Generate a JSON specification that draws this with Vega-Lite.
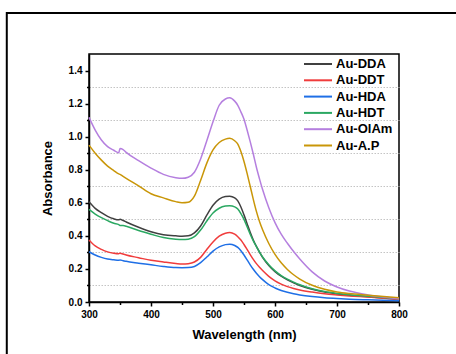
{
  "$schema": "https://vega.github.io/schema/vega-lite/v6.json",
  "width": 310,
  "height": 248,
  "autosize": {"type": "none"},
  "padding": {"left": 89, "top": 54, "right": 57, "bottom": 52},
  "background": "white",
  "config": {
    "view": {"stroke": "black", "strokeWidth": 1.5},
    "font": "Liberation Sans"
  },
  "datasets": {
    "spectra": [
      {"s":"Au-DDA","w":300,"a":0.606},{"s":"Au-DDA","w":310,"a":0.566},{"s":"Au-DDA","w":320,"a":0.54},{"s":"Au-DDA","w":330,"a":0.518},{"s":"Au-DDA","w":340,"a":0.503},{"s":"Au-DDA","w":348,"a":0.497},{"s":"Au-DDA","w":350,"a":0.5},{"s":"Au-DDA","w":355,"a":0.493},{"s":"Au-DDA","w":360,"a":0.484},{"s":"Au-DDA","w":380,"a":0.452},{"s":"Au-DDA","w":400,"a":0.425},{"s":"Au-DDA","w":420,"a":0.407},{"s":"Au-DDA","w":440,"a":0.4},{"s":"Au-DDA","w":450,"a":0.398},{"s":"Au-DDA","w":460,"a":0.4},{"s":"Au-DDA","w":470,"a":0.418},{"s":"Au-DDA","w":480,"a":0.46},{"s":"Au-DDA","w":490,"a":0.525},{"s":"Au-DDA","w":500,"a":0.585},{"s":"Au-DDA","w":510,"a":0.622},{"s":"Au-DDA","w":520,"a":0.638},{"s":"Au-DDA","w":527,"a":0.64},{"s":"Au-DDA","w":535,"a":0.63},{"s":"Au-DDA","w":540,"a":0.612},{"s":"Au-DDA","w":545,"a":0.575},{"s":"Au-DDA","w":550,"a":0.527},{"s":"Au-DDA","w":555,"a":0.474},{"s":"Au-DDA","w":560,"a":0.422},{"s":"Au-DDA","w":565,"a":0.375},{"s":"Au-DDA","w":570,"a":0.336},{"s":"Au-DDA","w":575,"a":0.302},{"s":"Au-DDA","w":580,"a":0.27},{"s":"Au-DDA","w":590,"a":0.221},{"s":"Au-DDA","w":600,"a":0.184},{"s":"Au-DDA","w":610,"a":0.156},{"s":"Au-DDA","w":620,"a":0.134},{"s":"Au-DDA","w":630,"a":0.116},{"s":"Au-DDA","w":640,"a":0.1},{"s":"Au-DDA","w":660,"a":0.077},{"s":"Au-DDA","w":680,"a":0.06},{"s":"Au-DDA","w":700,"a":0.049},{"s":"Au-DDA","w":720,"a":0.041},{"s":"Au-DDA","w":750,"a":0.032},{"s":"Au-DDA","w":775,"a":0.024},{"s":"Au-DDA","w":800,"a":0.017},

      {"s":"Au-DDT","w":300,"a":0.375},{"s":"Au-DDT","w":310,"a":0.339},{"s":"Au-DDT","w":320,"a":0.318},{"s":"Au-DDT","w":330,"a":0.303},{"s":"Au-DDT","w":340,"a":0.295},{"s":"Au-DDT","w":348,"a":0.292},{"s":"Au-DDT","w":350,"a":0.295},{"s":"Au-DDT","w":355,"a":0.29},{"s":"Au-DDT","w":360,"a":0.284},{"s":"Au-DDT","w":380,"a":0.268},{"s":"Au-DDT","w":400,"a":0.252},{"s":"Au-DDT","w":420,"a":0.242},{"s":"Au-DDT","w":440,"a":0.233},{"s":"Au-DDT","w":450,"a":0.23},{"s":"Au-DDT","w":460,"a":0.232},{"s":"Au-DDT","w":470,"a":0.242},{"s":"Au-DDT","w":480,"a":0.27},{"s":"Au-DDT","w":490,"a":0.318},{"s":"Au-DDT","w":500,"a":0.363},{"s":"Au-DDT","w":510,"a":0.398},{"s":"Au-DDT","w":520,"a":0.416},{"s":"Au-DDT","w":527,"a":0.42},{"s":"Au-DDT","w":535,"a":0.41},{"s":"Au-DDT","w":540,"a":0.395},{"s":"Au-DDT","w":545,"a":0.375},{"s":"Au-DDT","w":550,"a":0.348},{"s":"Au-DDT","w":555,"a":0.318},{"s":"Au-DDT","w":560,"a":0.287},{"s":"Au-DDT","w":565,"a":0.258},{"s":"Au-DDT","w":570,"a":0.232},{"s":"Au-DDT","w":575,"a":0.21},{"s":"Au-DDT","w":580,"a":0.19},{"s":"Au-DDT","w":590,"a":0.155},{"s":"Au-DDT","w":600,"a":0.128},{"s":"Au-DDT","w":610,"a":0.108},{"s":"Au-DDT","w":620,"a":0.093},{"s":"Au-DDT","w":630,"a":0.082},{"s":"Au-DDT","w":640,"a":0.073},{"s":"Au-DDT","w":660,"a":0.06},{"s":"Au-DDT","w":680,"a":0.05},{"s":"Au-DDT","w":700,"a":0.043},{"s":"Au-DDT","w":720,"a":0.037},{"s":"Au-DDT","w":750,"a":0.03},{"s":"Au-DDT","w":775,"a":0.023},{"s":"Au-DDT","w":800,"a":0.015},

      {"s":"Au-HDA","w":300,"a":0.304},{"s":"Au-HDA","w":310,"a":0.284},{"s":"Au-HDA","w":320,"a":0.27},{"s":"Au-HDA","w":330,"a":0.26},{"s":"Au-HDA","w":340,"a":0.255},{"s":"Au-HDA","w":348,"a":0.252},{"s":"Au-HDA","w":350,"a":0.254},{"s":"Au-HDA","w":355,"a":0.25},{"s":"Au-HDA","w":360,"a":0.246},{"s":"Au-HDA","w":380,"a":0.235},{"s":"Au-HDA","w":400,"a":0.225},{"s":"Au-HDA","w":420,"a":0.215},{"s":"Au-HDA","w":440,"a":0.208},{"s":"Au-HDA","w":450,"a":0.207},{"s":"Au-HDA","w":460,"a":0.208},{"s":"Au-HDA","w":470,"a":0.215},{"s":"Au-HDA","w":480,"a":0.238},{"s":"Au-HDA","w":490,"a":0.272},{"s":"Au-HDA","w":500,"a":0.308},{"s":"Au-HDA","w":510,"a":0.333},{"s":"Au-HDA","w":520,"a":0.347},{"s":"Au-HDA","w":527,"a":0.35},{"s":"Au-HDA","w":535,"a":0.342},{"s":"Au-HDA","w":540,"a":0.33},{"s":"Au-HDA","w":545,"a":0.31},{"s":"Au-HDA","w":550,"a":0.284},{"s":"Au-HDA","w":555,"a":0.255},{"s":"Au-HDA","w":560,"a":0.225},{"s":"Au-HDA","w":565,"a":0.198},{"s":"Au-HDA","w":570,"a":0.174},{"s":"Au-HDA","w":575,"a":0.153},{"s":"Au-HDA","w":580,"a":0.135},{"s":"Au-HDA","w":590,"a":0.105},{"s":"Au-HDA","w":600,"a":0.085},{"s":"Au-HDA","w":610,"a":0.07},{"s":"Au-HDA","w":620,"a":0.059},{"s":"Au-HDA","w":630,"a":0.05},{"s":"Au-HDA","w":640,"a":0.043},{"s":"Au-HDA","w":660,"a":0.033},{"s":"Au-HDA","w":680,"a":0.026},{"s":"Au-HDA","w":700,"a":0.021},{"s":"Au-HDA","w":720,"a":0.017},{"s":"Au-HDA","w":750,"a":0.013},{"s":"Au-HDA","w":775,"a":0.01},{"s":"Au-HDA","w":800,"a":0.008},

      {"s":"Au-HDT","w":300,"a":0.56},{"s":"Au-HDT","w":310,"a":0.532},{"s":"Au-HDT","w":320,"a":0.51},{"s":"Au-HDT","w":330,"a":0.492},{"s":"Au-HDT","w":340,"a":0.476},{"s":"Au-HDT","w":348,"a":0.468},{"s":"Au-HDT","w":350,"a":0.462},{"s":"Au-HDT","w":355,"a":0.462},{"s":"Au-HDT","w":360,"a":0.458},{"s":"Au-HDT","w":380,"a":0.432},{"s":"Au-HDT","w":400,"a":0.41},{"s":"Au-HDT","w":420,"a":0.39},{"s":"Au-HDT","w":440,"a":0.38},{"s":"Au-HDT","w":450,"a":0.378},{"s":"Au-HDT","w":460,"a":0.38},{"s":"Au-HDT","w":470,"a":0.395},{"s":"Au-HDT","w":480,"a":0.435},{"s":"Au-HDT","w":490,"a":0.49},{"s":"Au-HDT","w":500,"a":0.538},{"s":"Au-HDT","w":510,"a":0.567},{"s":"Au-HDT","w":520,"a":0.58},{"s":"Au-HDT","w":527,"a":0.582},{"s":"Au-HDT","w":535,"a":0.575},{"s":"Au-HDT","w":540,"a":0.562},{"s":"Au-HDT","w":545,"a":0.535},{"s":"Au-HDT","w":550,"a":0.5},{"s":"Au-HDT","w":555,"a":0.455},{"s":"Au-HDT","w":560,"a":0.41},{"s":"Au-HDT","w":565,"a":0.37},{"s":"Au-HDT","w":570,"a":0.335},{"s":"Au-HDT","w":575,"a":0.302},{"s":"Au-HDT","w":580,"a":0.272},{"s":"Au-HDT","w":590,"a":0.225},{"s":"Au-HDT","w":600,"a":0.188},{"s":"Au-HDT","w":610,"a":0.16},{"s":"Au-HDT","w":620,"a":0.138},{"s":"Au-HDT","w":630,"a":0.12},{"s":"Au-HDT","w":640,"a":0.104},{"s":"Au-HDT","w":660,"a":0.08},{"s":"Au-HDT","w":680,"a":0.063},{"s":"Au-HDT","w":700,"a":0.052},{"s":"Au-HDT","w":720,"a":0.044},{"s":"Au-HDT","w":750,"a":0.035},{"s":"Au-HDT","w":775,"a":0.027},{"s":"Au-HDT","w":800,"a":0.02},

      {"s":"Au-OlAm","w":300,"a":1.117},{"s":"Au-OlAm","w":310,"a":1.04},{"s":"Au-OlAm","w":320,"a":0.98},{"s":"Au-OlAm","w":330,"a":0.94},{"s":"Au-OlAm","w":340,"a":0.918},{"s":"Au-OlAm","w":348,"a":0.902},{"s":"Au-OlAm","w":350,"a":0.928},{"s":"Au-OlAm","w":355,"a":0.922},{"s":"Au-OlAm","w":360,"a":0.905},{"s":"Au-OlAm","w":380,"a":0.855},{"s":"Au-OlAm","w":400,"a":0.81},{"s":"Au-OlAm","w":420,"a":0.772},{"s":"Au-OlAm","w":440,"a":0.752},{"s":"Au-OlAm","w":450,"a":0.748},{"s":"Au-OlAm","w":460,"a":0.755},{"s":"Au-OlAm","w":470,"a":0.785},{"s":"Au-OlAm","w":480,"a":0.865},{"s":"Au-OlAm","w":490,"a":0.975},{"s":"Au-OlAm","w":500,"a":1.09},{"s":"Au-OlAm","w":510,"a":1.19},{"s":"Au-OlAm","w":520,"a":1.228},{"s":"Au-OlAm","w":527,"a":1.235},{"s":"Au-OlAm","w":535,"a":1.215},{"s":"Au-OlAm","w":540,"a":1.19},{"s":"Au-OlAm","w":545,"a":1.15},{"s":"Au-OlAm","w":550,"a":1.105},{"s":"Au-OlAm","w":555,"a":1.04},{"s":"Au-OlAm","w":560,"a":0.97},{"s":"Au-OlAm","w":565,"a":0.895},{"s":"Au-OlAm","w":570,"a":0.815},{"s":"Au-OlAm","w":575,"a":0.745},{"s":"Au-OlAm","w":580,"a":0.68},{"s":"Au-OlAm","w":590,"a":0.57},{"s":"Au-OlAm","w":600,"a":0.48},{"s":"Au-OlAm","w":610,"a":0.41},{"s":"Au-OlAm","w":620,"a":0.355},{"s":"Au-OlAm","w":630,"a":0.305},{"s":"Au-OlAm","w":640,"a":0.26},{"s":"Au-OlAm","w":660,"a":0.182},{"s":"Au-OlAm","w":680,"a":0.127},{"s":"Au-OlAm","w":700,"a":0.091},{"s":"Au-OlAm","w":720,"a":0.066},{"s":"Au-OlAm","w":750,"a":0.043},{"s":"Au-OlAm","w":775,"a":0.03},{"s":"Au-OlAm","w":800,"a":0.02},

      {"s":"Au-A.P","w":300,"a":0.949},{"s":"Au-A.P","w":310,"a":0.9},{"s":"Au-A.P","w":320,"a":0.858},{"s":"Au-A.P","w":330,"a":0.822},{"s":"Au-A.P","w":340,"a":0.795},{"s":"Au-A.P","w":348,"a":0.775},{"s":"Au-A.P","w":350,"a":0.772},{"s":"Au-A.P","w":355,"a":0.76},{"s":"Au-A.P","w":360,"a":0.748},{"s":"Au-A.P","w":380,"a":0.703},{"s":"Au-A.P","w":400,"a":0.655},{"s":"Au-A.P","w":420,"a":0.63},{"s":"Au-A.P","w":440,"a":0.607},{"s":"Au-A.P","w":450,"a":0.6},{"s":"Au-A.P","w":460,"a":0.603},{"s":"Au-A.P","w":470,"a":0.64},{"s":"Au-A.P","w":480,"a":0.735},{"s":"Au-A.P","w":490,"a":0.84},{"s":"Au-A.P","w":500,"a":0.92},{"s":"Au-A.P","w":510,"a":0.965},{"s":"Au-A.P","w":520,"a":0.985},{"s":"Au-A.P","w":527,"a":0.99},{"s":"Au-A.P","w":535,"a":0.975},{"s":"Au-A.P","w":540,"a":0.955},{"s":"Au-A.P","w":545,"a":0.91},{"s":"Au-A.P","w":550,"a":0.85},{"s":"Au-A.P","w":555,"a":0.778},{"s":"Au-A.P","w":560,"a":0.7},{"s":"Au-A.P","w":565,"a":0.621},{"s":"Au-A.P","w":570,"a":0.548},{"s":"Au-A.P","w":575,"a":0.487},{"s":"Au-A.P","w":580,"a":0.437},{"s":"Au-A.P","w":590,"a":0.354},{"s":"Au-A.P","w":600,"a":0.288},{"s":"Au-A.P","w":610,"a":0.237},{"s":"Au-A.P","w":620,"a":0.197},{"s":"Au-A.P","w":630,"a":0.165},{"s":"Au-A.P","w":640,"a":0.139},{"s":"Au-A.P","w":660,"a":0.101},{"s":"Au-A.P","w":680,"a":0.077},{"s":"Au-A.P","w":700,"a":0.061},{"s":"Au-A.P","w":720,"a":0.051},{"s":"Au-A.P","w":750,"a":0.041},{"s":"Au-A.P","w":775,"a":0.033},{"s":"Au-A.P","w":800,"a":0.026}
    ],
    "frame": [{"x1": 167.4, "x2": 950, "y1": 1.748, "y2": -0.5}]
  },
  "layer": [
    {
      "data": {"name": "frame"},
      "mark": {"type": "rect", "filled": false, "stroke": "black", "strokeWidth": 2, "clip": false},
      "encoding": {
        "x": {"field": "x1", "type": "quantitative", "scale": {"domain": [300, 800], "nice": false, "zero": false},
              "axis": {"orient": "bottom", "values": [350, 450, 550, 650, 750], "labels": false, "domain": false, "grid": false, "tickSize": 2.5, "tickWidth": 1.5, "tickColor": "black", "title": null}},
        "x2": {"field": "x2"},
        "y": {"field": "y1", "type": "quantitative", "scale": {"domain": [0, 1.5], "nice": false, "zero": false},
              "axis": {"orient": "left", "values": [0.1, 0.3, 0.5, 0.7, 0.9, 1.1, 1.3], "labels": false, "domain": false, "grid": true, "gridColor": "#c4c4c4", "gridDash": [1.5, 1.5], "gridWidth": 1, "tickSize": 2.5, "tickWidth": 1.5, "tickColor": "black", "title": null}},
        "y2": {"field": "y2"}
      }
    },
    {
      "data": {"name": "spectra"},
      "mark": {"type": "line", "strokeWidth": 1.5, "interpolate": "monotone"},
      "encoding": {
        "x": {"field": "w", "type": "quantitative", "scale": {"domain": [300, 800], "nice": false, "zero": false},
              "axis": {"orient": "bottom", "values": [300, 400, 500, 600, 700, 800], "format": "d", "grid": false, "tickSize": 4, "tickWidth": 1.5, "tickColor": "black", "domainColor": "black", "domainWidth": 1.5, "labelFont": "Liberation Sans", "labelFontWeight": "bold", "labelFontSize": 10, "labelColor": "black", "labelPadding": 3, "labelFlush": false, "title": "Wavelength (nm)", "titleFont": "Liberation Sans", "titleFontSize": 13, "titleFontWeight": "bold", "titleColor": "black", "titlePadding": 9}},
        "y": {"field": "a", "type": "quantitative", "scale": {"domain": [0, 1.5], "nice": false, "zero": false},
              "axis": {"orient": "left", "values": [0, 0.2, 0.4, 0.6, 0.8, 1.0, 1.2, 1.4], "format": ".1f", "grid": false, "tickSize": 4, "tickWidth": 1.5, "tickColor": "black", "domainColor": "black", "domainWidth": 1.5, "labelFont": "Liberation Sans", "labelFontWeight": "bold", "labelFontSize": 10, "labelColor": "black", "labelPadding": 3, "labelFlush": false, "title": "Absorbance", "titleFont": "Liberation Sans", "titleFontSize": 13, "titleFontWeight": "bold", "titleColor": "black", "titlePadding": 14}},
        "color": {"field": "s", "type": "nominal",
                  "scale": {"domain": ["Au-DDA", "Au-DDT", "Au-HDA", "Au-HDT", "Au-OlAm", "Au-A.P"],
                            "range": ["#404040", "#f03c3c", "#1f6fe6", "#2ba862", "#b57fdf", "#c99608"]},
                  "legend": {"orient": "none", "legendX": 221, "legendY": 2, "title": null, "padding": 0,
                             "symbolType": "M-2,0H2", "symbolSize": 196, "symbolStrokeWidth": 2,
                             "labelFont": "Liberation Sans", "labelFontSize": 13, "labelFontWeight": "bold", "labelColor": "black",
                             "labelOffset": 10, "rowPadding": 1.3}}
      }
    }
  ],
  "resolve": {"axis": {"x": "independent", "y": "independent"}}
}
